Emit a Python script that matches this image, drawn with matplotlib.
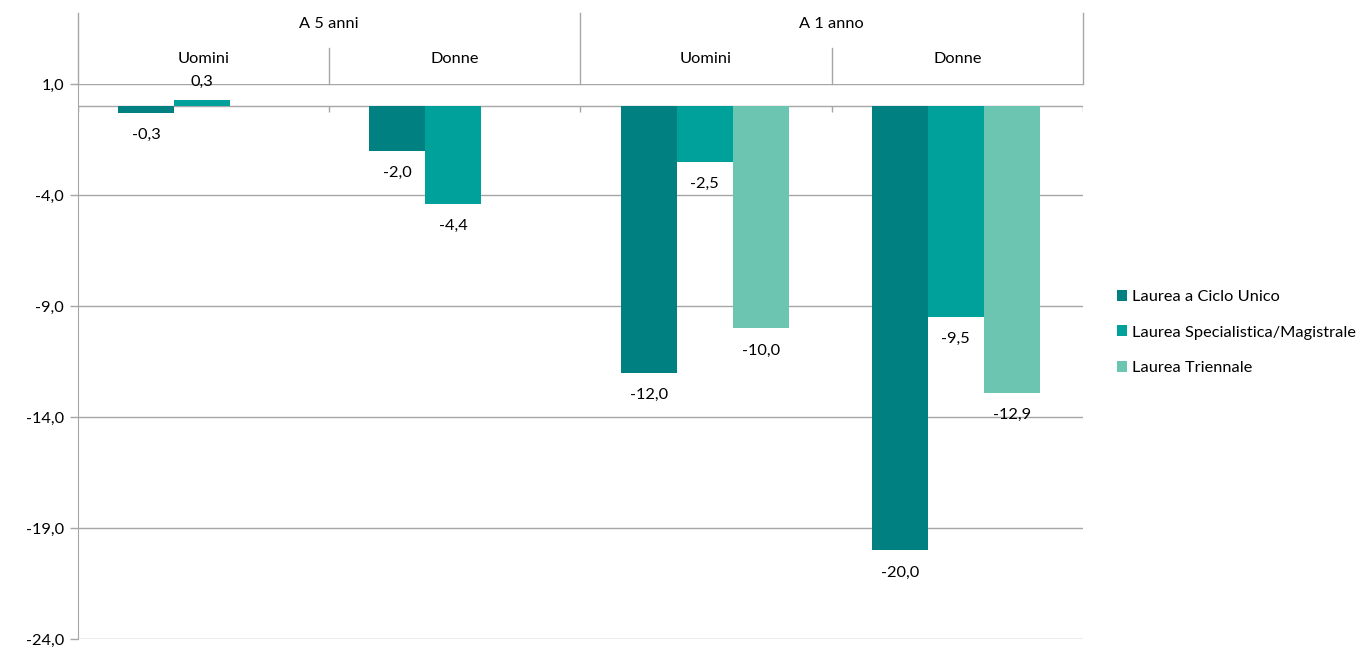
import numpy as np
import matplotlib
matplotlib.use('Agg')
import matplotlib.pyplot as plt
from matplotlib.ticker import FuncFormatter

plt.rcParams['font.family'] = ['Lato', 'DejaVu Sans']
plt.rcParams['font.size'] = 11.8

# ── data ────────────────────────────────────────────────
periods = ['A 5 anni', 'A 1 anno']
genders = ['Uomini', 'Donne', 'Uomini', 'Donne']
series = ['Laurea a Ciclo Unico', 'Laurea Specialistica/Magistrale', 'Laurea Triennale']
ciclo_unico = [-0.3, -2.0, -12.0, -20.0]
specialistica = [0.3, -4.4, -2.5, -9.5]
triennale = [None, None, -10.0, -12.9]
yticks = [1, -4, -9, -14, -19, -24]

colors = ['#008080', '#00A19A', '#6CC5B0']
GRID = '#A6A6A6'

fig = plt.figure(figsize=(13.66, 6.47), dpi=100)
ax = fig.add_axes([0.0571, 0.01236, 0.7357, 0.8578])

x = np.arange(len(genders))
w = 0.223
for i, (name, vals, col) in enumerate(zip(series, [ciclo_unico, specialistica, triennale], colors)):
    xs = [xx + (i - 1) * w - 0.006 for xx, v in zip(x, vals) if v is not None]
    vs = [v for v in vals if v is not None]
    ax.bar(xs, vs, width=w, color=col, label=name, zorder=3)
    for xb, v in zip(xs, vs):
        off = 13 if v > 0 else -16
        ax.annotate(f'{v:.1f}'.replace('.', ','), (xb, v), xytext=(0, off),
                    textcoords='offset points', ha='center', va='center',
                    color='#000000', zorder=4)

ax.set_xlim(-0.5, len(genders) - 0.5)
ax.set_ylim(-24, 1)
ax.set_yticks(yticks)
ax.yaxis.set_major_formatter(FuncFormatter(lambda v, p: f'{v:.1f}'.replace('.', ',')))
ax.yaxis.grid(True, color=GRID, linewidth=1, zorder=0)
ax.set_xticks([])
ax.tick_params(axis='y', length=6, width=1, color=GRID, pad=4)
for s in ['top', 'right', 'bottom']:
    ax.spines[s].set_visible(False)
ax.spines['left'].set_color(GRID)

# zero axis line with category ticks
ax.axhline(0, color=GRID, linewidth=1, zorder=2)
bounds = np.arange(len(genders) + 1) - 0.5
ax.vlines(bounds, -0.27, 0, color=GRID, linewidth=1, zorder=2)

# ── multi-level header above plot ──────────────────────
tr = ax.get_xaxis_transform()
for b in bounds:
    major = b in (bounds[0], bounds[2], bounds[-1])
    top = 1.128 if major else 1.065
    ax.plot([b, b], [1.0, top], transform=tr, color=GRID, linewidth=1, clip_on=False)
for xx, g in zip(x, genders):
    ax.text(xx, 1.045, g, transform=tr, ha='center', va='center')
for k, p in enumerate(periods):
    ax.text(2 * k + 0.5, 1.108, p, transform=tr, ha='center', va='center')

ax.legend(loc='center left', bbox_to_anchor=(0.8126, 0.486), bbox_transform=fig.transFigure,
          frameon=False, handlelength=0.65, handleheight=0.65, handletextpad=0.3,
          labelspacing=1.3, borderaxespad=0)

fig.savefig('out.png', dpi=100)
